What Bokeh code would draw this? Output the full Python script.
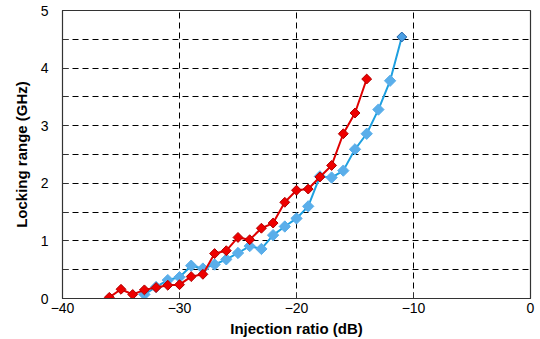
import math
from bokeh.plotting import figure
from bokeh.models import FixedTicker, Range1d
from bokeh.embed import file_html
from bokeh.resources import INLINE

# Injection ratio (dB) and locking range (GHz) for the two measurements
red_x = [-36, -35, -34, -33, -32, -31, -30, -29, -28, -27, -26, -25, -24, -23, -22, -21,
         -20, -19, -18, -17, -16, -15, -14]
red_y = [0.02, 0.16, 0.07, 0.15, 0.19, 0.23, 0.24, 0.38, 0.42, 0.78, 0.83, 1.06, 1.02, 1.22,
         1.31, 1.67, 1.88, 1.90, 2.11, 2.31, 2.86, 3.22, 3.81]

blue_x = [-33, -32, -31, -30, -29, -28, -27, -26, -25, -24, -23, -22, -21, -20, -19, -18,
          -17, -16, -15, -14, -13, -12, -11]
blue_y = [0.07, 0.20, 0.32, 0.37, 0.57, 0.52, 0.59, 0.68, 0.79, 0.91, 0.86, 1.10, 1.25,
          1.39, 1.60, 2.12, 2.10, 2.22, 2.59, 2.86, 3.28, 3.78, 4.54]

x_ticks = [-40, -30, -20, -10, 0]
y_ticks = [0, 1, 2, 3, 4, 5]
y_minor = [0.5, 1.5, 2.5, 3.5, 4.5]

p = figure(width=540, height=339, output_backend="svg", toolbar_location=None,
           x_range=Range1d(-40, 0), y_range=Range1d(0, 5),
           min_border_left=62, min_border_right=10, min_border_top=10, min_border_bottom=41)

p.outline_line_color = "#333333"
p.outline_line_width = 1.2
p.background_fill_color = "white"
p.border_fill_color = "white"

# axes
for ax in (p.xaxis[0], p.yaxis[0]):
    ax.axis_line_color = "#333333"
    ax.major_tick_in = 6
    ax.major_tick_out = 0
    ax.minor_tick_in = 6
    ax.minor_tick_out = 0
    ax.major_tick_line_color = "#333333"
    ax.minor_tick_line_color = "#333333"
    ax.major_label_text_font = "Liberation Sans"
    ax.major_label_text_font_size = "14px"
    ax.major_label_text_color = "black"
    ax.axis_label_text_font = "Liberation Sans"
    ax.axis_label_text_font_style = "bold"
    ax.axis_label_text_font_size = "15px"
    ax.axis_label_text_color = "black"

p.xaxis.ticker = FixedTicker(ticks=x_ticks)
p.yaxis.ticker = FixedTicker(ticks=y_ticks, minor_ticks=y_minor)
p.xaxis.minor_tick_line_color = None
p.xaxis.major_label_standoff = 4
p.yaxis.major_label_standoff = 14
p.xaxis.axis_label = "Injection ratio (dB)"
p.yaxis.axis_label = "Locking range (GHz)"
p.xaxis.axis_label_standoff = 4
p.yaxis.axis_label_standoff = 8

# dashed grid
p.xgrid.ticker = FixedTicker(ticks=[-30, -20, -10])
p.ygrid.ticker = FixedTicker(ticks=[1, 2, 3, 4], minor_ticks=y_minor)
for g in (p.xgrid[0], p.ygrid[0]):
    g.grid_line_color = "black"
    g.grid_line_dash = "6 4"
    g.grid_line_width = 1
p.ygrid.minor_grid_line_color = "black"
p.ygrid.minor_grid_line_dash = "6 4"

rot = math.pi / 4

# series
p.line(blue_x, blue_y, line_color="#1ea0e0", line_width=2)
p.scatter(blue_x[:-1], blue_y[:-1], marker="square", size=8, angle=rot,
          fill_color="#5aaeea", line_color="#5aaeea")
p.scatter(blue_x[-1:], blue_y[-1:], marker="square", size=7, angle=rot,
          fill_color="#4a9fe4", line_color="#1f62a8", line_width=1)

p.line(red_x, red_y, line_color="#e00000", line_width=2)
p.scatter(red_x, red_y, marker="square", size=7, angle=rot,
          fill_color="#ee0000", line_color="#b00000", line_width=1)

open("out.html", "w").write(file_html(p, INLINE))
